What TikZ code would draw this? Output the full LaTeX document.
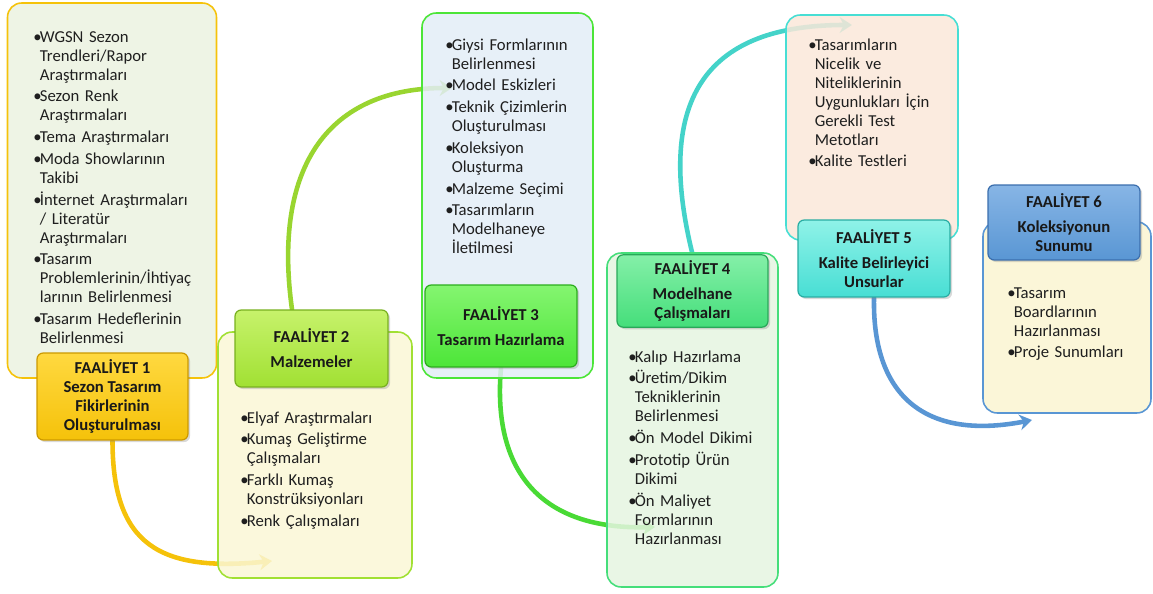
\documentclass[tikz,border=0pt]{standalone}
\usepackage{fontspec}
\setmainfont{Carlito}
\usepackage{tikz}
\usetikzlibrary{arrows.meta,shadows}
\pgfdeclarelayer{background}
\pgfsetlayers{background, main}

\definecolor{gold}{rgb}{0.96, 0.76, 0.04}
\definecolor{goldlt}{rgb}{1, 0.85, 0.25}
\definecolor{golddk}{rgb}{0.80, 0.60, 0}
\definecolor{lime}{rgb}{0.63, 0.88, 0.20}
\definecolor{limelt}{rgb}{0.78, 0.95, 0.42}
\definecolor{limedk}{rgb}{0.47, 0.69, 0.12}
\definecolor{grn}{rgb}{0.30, 0.90, 0.22}
\definecolor{grnlt}{rgb}{0.52, 0.96, 0.44}
\definecolor{grndk}{rgb}{0.17, 0.68, 0.11}
\definecolor{mint}{rgb}{0.27, 0.87, 0.48}
\definecolor{mintlt}{rgb}{0.52, 0.94, 0.66}
\definecolor{mintdk}{rgb}{0.16, 0.66, 0.35}
\definecolor{teal}{rgb}{0.28, 0.87, 0.83}
\definecolor{teallt}{rgb}{0.56, 0.95, 0.91}
\definecolor{tealdk}{rgb}{0.16, 0.68, 0.64}
\definecolor{sky}{rgb}{0.35, 0.59, 0.83}
\definecolor{skylt}{rgb}{0.53, 0.71, 0.90}
\definecolor{skydk}{rgb}{0.23, 0.43, 0.68}
\definecolor{fill1}{rgb}{0.92, 0.95, 0.88}
\definecolor{fill2}{rgb}{0.98, 0.97, 0.84}
\definecolor{fill3}{rgb}{0.89, 0.93, 0.97}
\definecolor{fill4}{rgb}{0.90, 0.96, 0.88}
\definecolor{fill5}{rgb}{0.98, 0.91, 0.85}
\definecolor{fill6}{rgb}{0.98, 0.96, 0.82}

% one bullet item, hanging indent under the text
\newcommand{\bul}[1]{\par\hangindent=0.13cm\hangafter=1\noindent\makebox[0.13cm][l]{•}#1\par}

\tikzset{
    x=0.02cm, y=-0.02cm,
    panel/.style={
        rectangle,
        rounded corners=8pt,
        line width=0.9pt,
        fill opacity=0.85
    },
    head/.style={
        rectangle,
        rounded corners=3.5pt,
        line width=0.7pt,
        align=center,
        text=black!90,
        font=\fontsize{9.5pt}{10.8pt}\selectfont\bfseries,
        drop shadow={opacity=0.3, shadow xshift=1.2pt, shadow yshift=-1.2pt}
    },
    notes/.style={
        anchor=north west,
        inner sep=0pt,
        align=left,
        text=black!88,
        font=\fontsize{9.5pt}{10.8pt}\selectfont,
        execute at begin node={\setlength{\parskip}{1.6pt}}
    },
    flow/.style={line width=2.6pt, line cap=round, -{Stealth[length=7pt,width=9pt]}},
}

\begin{document}
\begin{tikzpicture}
    \useasboundingbox (0, 0) rectangle (1153, 594);

    \coordinate (e1) at (272, 561);
    \coordinate (e2) at (452, 88);
    \coordinate (e3) at (655, 527);
    \coordinate (e4) at (852, 25);
    \coordinate (e5) at (1032, 420);

    % panels
    \node [panel, fill=fill1, draw=gold, minimum width=4.18cm, minimum height=7.5cm] (body1) at (112, 190.5) {};
    \node [panel, fill=fill2, draw=lime, minimum width=3.88cm, minimum height=4.92cm] (body2) at (315, 455) {};
    \node [panel, fill=fill3, draw=grn, minimum width=3.42cm, minimum height=7.3cm] (body3) at (507.5, 195.5) {};
    \node [panel, fill=fill4, draw=mint, minimum width=3.42cm, minimum height=6.68cm] (body4) at (692.5, 420) {};
    \node [panel, fill=fill5, draw=teal, minimum width=3.44cm, minimum height=4.5cm] (body5) at (872, 127.5) {};
    \node [panel, fill=fill6, draw=sky, minimum width=3.36cm, minimum height=3.82cm] (body6) at (1067, 317.5) {};

    % titles
    \node [head, top color=goldlt, bottom color=gold, draw=golddk, minimum width=3.02cm, minimum height=1.74cm] (head1) at (112.5, 396.5)
        {FAALİYET 1\\Sezon Tasarım\\Fikirlerinin\\Oluşturulması};
    \node [head, top color=limelt, bottom color=lime, draw=limedk, minimum width=3.06cm, minimum height=1.54cm] (head2) at (311.5, 348.5)
        {FAALİYET 2\\[3.4pt]Malzemeler};
    \node [head, top color=grnlt, bottom color=grn, draw=grndk, minimum width=3.04cm, minimum height=1.64cm] (head3) at (501, 326)
        {FAALİYET 3\\[3.4pt]Tasarım Hazırlama};
    \node [head, top color=mintlt, bottom color=mint, draw=mintdk, minimum width=3.02cm, minimum height=1.44cm] (head4) at (692.5, 291)
        {FAALİYET 4\\[3.4pt]Modelhane\\Çalışmaları};
    \node [head, top color=teallt, bottom color=teal, draw=tealdk, minimum width=3.04cm, minimum height=1.54cm] (head5) at (874, 258.5)
        {FAALİYET 5\\[3.4pt]Kalite Belirleyici\\Unsurlar};
    \node [head, top color=skylt, bottom color=sky, draw=skydk, minimum width=3.04cm, minimum height=1.5cm] (head6) at (1064, 222.5)
        {FAALİYET 6\\[3.4pt]Koleksiyonun\\Sunumu};

    % arcs, under the panels
    \begin{pgfonlayer}{background}
        \draw [flow, gold] (head1.south) .. controls +(0, 105) and +(-112, 11) .. (e1);
        \draw [flow, lime!95!black] ([xshift=-0.39cm]head2.north) .. controls +(-20, -145) and +(-122, 0) .. (e2);
        \draw [flow, grn!95!black] (head3.south) .. controls +(-9, 103) and +(-115, 3) .. (e3);
        \draw [flow, teal!95!black] (head4.north) .. controls +(-42, -170) and +(-132, 0) .. (e4);
        \draw [flow, sky] (head5.south) .. controls +(-2, 103) and +(-102, 20) .. (e5);
    \end{pgfonlayer}

    % lists
    \node [notes, text width=3.7cm] (list1) at (33, 20) {%
        \bul{WGSN Sezon\newline Trendleri/Rapor\newline Araştırmaları}
        \bul{Sezon Renk\newline Araştırmaları}
        \bul{Tema Araştırmaları}
        \bul{Moda Showlarının\newline Takibi}
        \bul{İnternet Araştırmaları\newline / Literatür\newline Araştırmaları}
        \bul{Tasarım\newline Problemlerinin/İhtiyaç\newline larının Belirlenmesi}
        \bul{Tasarım Hedeflerinin\newline Belirlenmesi}};
    \node [notes, text width=3.4cm] (list2) at (240, 401) {%
        \bul{Elyaf Araştırmaları}
        \bul{Kumaş Geliştirme\newline Çalışmaları}
        \bul{Farklı Kumaş\newline Konstrüksiyonları}
        \bul{Renk Çalışmaları}};
    \node [notes, text width=2.9cm] (list3) at (445, 28) {%
        \bul{Giysi Formlarının\newline Belirlenmesi}
        \bul{Model Eskizleri}
        \bul{Teknik Çizimlerin\newline Oluşturulması}
        \bul{Koleksiyon\newline Oluşturma}
        \bul{Malzeme Seçimi}
        \bul{Tasarımların\newline Modelhaneye\newline İletilmesi}};
    \node [notes, text width=2.9cm] (list4) at (628, 340) {%
        \bul{Kalıp Hazırlama}
        \bul{Üretim/Dikim\newline Tekniklerinin\newline Belirlenmesi}
        \bul{Ön Model Dikimi}
        \bul{Prototip Ürün\newline Dikimi}
        \bul{Ön Maliyet\newline Formlarının\newline Hazırlanması}};
    \node [notes, text width=2.9cm] (list5) at (808, 28) {%
        \bul{Tasarımların\newline Nicelik ve\newline Niteliklerinin\newline Uygunlukları İçin\newline Gerekli Test\newline Metotları}
        \bul{Kalite Testleri}};
    \node [notes, text width=2.8cm] (list6) at (1007, 276) {%
        \bul{Tasarım\newline Boardlarının\newline Hazırlanması}
        \bul{Proje Sunumları}};
\end{tikzpicture}
\end{document}
